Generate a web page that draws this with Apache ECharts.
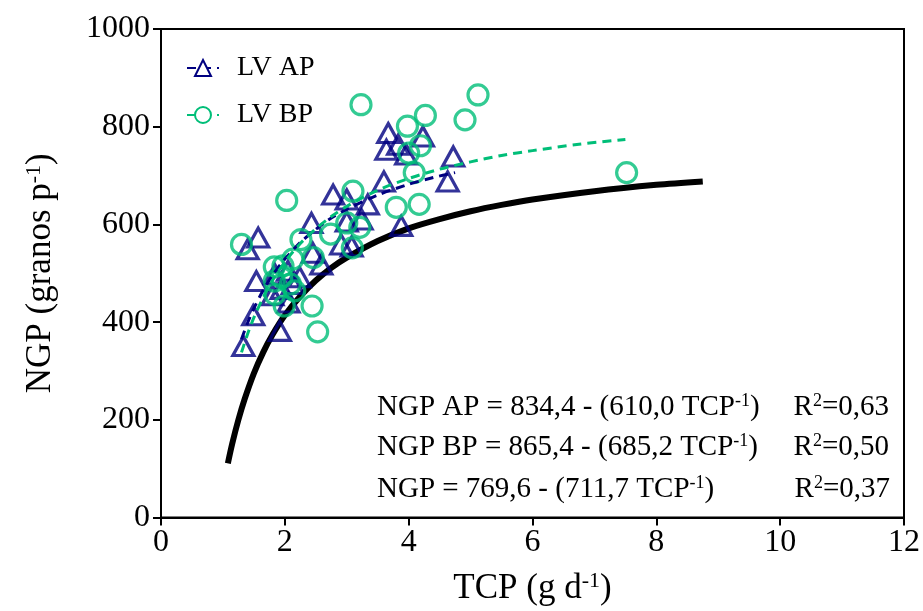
<!DOCTYPE html>
<html>
<head>
<meta charset="utf-8">
<script src="https://cdn.jsdelivr.net/npm/echarts@6/dist/echarts.min.js"></script>
<style>html,body{margin:0;padding:0;background:#fff;}#c{width:923px;height:611px;}</style>
</head>
<body>
<div id="c"></div>
<script>
// LV AP observations (TCP, NGP)
var apTCP = [1.33,1.49,1.54,1.57,1.40,1.80,1.92,1.84,1.95,2.05,2.13,2.24,2.06,2.43,2.45,2.59,2.78,3.00,3.34,2.91,3.08,3.24,3.00,3.67,3.64,3.83,3.96,4.23,3.60,3.88,4.72,4.63];
var apNGP = [351,414,484,573,549,455,382,498,468,505,478,492,440,603,542,518,661,651,641,559,555,610,606,787,753,763,743,780,688,597,739,688];
// LV BP observations (TCP, NGP)
var bpTCP = [3.23,3.98,4.27,4.91,5.12,4.19,4.00,4.09,3.10,2.03,3.80,4.17,1.30,2.26,2.74,3.00,3.21,3.09,2.46,2.13,1.97,1.83,1.83,1.95,2.16,1.84,1.99,2.44,2.53,2.09,7.52];
var bpNGP = [845,801,823,814,865,761,746,706,668,649,635,641,559,569,580,603,594,552,532,529,515,513,484,491,464,457,433,433,380,478,706];
// fitted curves
var fitApTCP = [1.3,1.4,1.5,1.65,1.8,2,2.25,2.5,2.75,3,3.5,4,4.4,4.75];
var fitApNGP = [365,399,428,465,496,529,563,590,613,631,660,682,696,706];
var fitBpTCP = [1.3,1.4,1.5,1.65,1.8,2,2.25,2.5,2.75,3,3.5,4,4.5,5,5.5,6,6.75,7.5];
var fitBpNGP = [338,376,409,450,485,523,561,591,616,637,670,694,713,728,741,751,764,774];
var fitAllTCP = [1.08,1.15,1.25,1.35,1.5,1.65,1.8,2,2.25,2.5,2.75,3,3.5,4,4.5,5,5.5,6,7,8,8.75];
var fitAllNGP = [111,151,200,242,295,338,374,414,453,485,511,532,566,592,611,627,640,651,668,681,688];
// axis ticks
var xTicks = [0,2,4,6,8,10,12];
var yTicks = [0,200,400,600,800,1000];

function zip(a,b){return a.map(function(v,i){return [v,b[i]];});}

var NAVY = '#000080', GREEN = '#00BE78';
var FONT = '"Liberation Serif","Times New Roman",serif';
var supStyle = {fontSize: 22, fontFamily: FONT, verticalAlign: 'top', lineHeight: 36, color:'#000'};
var eqSup = {sup:{fontSize:18, fontFamily:FONT, verticalAlign:'top', lineHeight: 30}};

var chart = echarts.init(document.getElementById('c'), null, {renderer:'canvas'});
chart.setOption({
  animation: false,
  backgroundColor: '#fff',
  grid: {left: 161, right: 19, top: 29, bottom: 92, show: true, borderColor: '#000', borderWidth: 2, backgroundColor: 'transparent'},
  legend: {
    orient: 'vertical', left: 181, top: 49, itemGap: 19,
    itemWidth: 32, itemHeight: 20,
    data: ['LV AP','LV BP'],
    textStyle: {fontFamily: FONT, fontSize: 28, color: '#000', padding: [0,0,0,13]}
  },
  xAxis: {
    type: 'value', min: xTicks[0], max: xTicks[xTicks.length-1], interval: 2,
    name: 'TCP (g d{sup|-1})', nameLocation: 'middle', nameGap: 53,
    nameTextStyle: {fontFamily: FONT, fontSize: 35, color: '#000', rich: {sup: supStyle}},
    axisLine: {lineStyle: {color: '#000', width: 2}},
    axisTick: {show: true, inside: false, length: 8, lineStyle: {color:'#000', width: 2}},
    axisLabel: {fontFamily: FONT, fontSize: 32, color: '#000', margin: 9, formatter: function(v){return String(v);}},
    splitLine: {show: false}
  },
  yAxis: {
    type: 'value', min: yTicks[0], max: yTicks[yTicks.length-1], interval: 200,
    name: 'NGP (granos p{sup|-1})', nameLocation: 'middle', nameGap: 102,
    nameTextStyle: {fontFamily: FONT, fontSize: 35, color: '#000', rich: {sup: supStyle}},
    axisLine: {lineStyle: {color: '#000', width: 2}},
    axisTick: {show: true, inside: false, length: 8, lineStyle: {color:'#000', width: 2}},
    axisLabel: {fontFamily: FONT, fontSize: 32, color: '#000', margin: 11, formatter: function(v){return String(v);}},
    splitLine: {show: false}
  },
  series: [
    {
      name: 'NGP', type: 'line', data: zip(fitAllTCP, fitAllNGP), smooth: 0.3,
      showSymbol: false, symbol: 'none', lineStyle: {color: '#000', width: 6}, z: 1, silent: true
    },
    {
      name: 'LV AP', type: 'line', data: zip(fitApTCP, fitApNGP), smooth: 0.3,
      showSymbol: false, symbol: 'emptyTriangle', symbolSize: 14,
      itemStyle: {color: NAVY}, lineStyle: {color: NAVY, width: 3, type: [9,6]}, z: 3, silent: true
    },
    {
      name: 'LV BP', type: 'line', data: zip(fitBpTCP, fitBpNGP), smooth: 0.3,
      showSymbol: false, symbol: 'emptyCircle', symbolSize: 14,
      itemStyle: {color: GREEN}, lineStyle: {color: GREEN, width: 3, type: [9,6]}, z: 3, silent: true
    },
    {
      name: 'AP obs', type: 'scatter', data: zip(apTCP, apNGP), symbol: 'triangle', symbolSize: [21,19],
      itemStyle: {color: 'rgba(0,0,0,0)', borderColor: NAVY, borderWidth: 3.2}, z: 2
    },
    {
      name: 'BP obs', type: 'scatter', data: zip(bpTCP, bpNGP), symbol: 'circle', symbolSize: 20,
      itemStyle: {color: 'rgba(0,0,0,0)', borderColor: GREEN, borderWidth: 3.2}, z: 2
    }
  ],
  graphic: [
    {type:'text', left: 377, top: 392, style:{text:'NGP AP = 834,4 - (610,0 TCP{sup|-1})', font:'29px '+FONT, fill:'#000', rich: eqSup}},
    {type:'text', left: 377, top: 432, style:{text:'NGP BP = 865,4 - (685,2 TCP{sup|-1})', font:'29px '+FONT, fill:'#000', rich: eqSup}},
    {type:'text', left: 377, top: 474, style:{text:'NGP = 769,6 - (711,7 TCP{sup|-1})', font:'29px '+FONT, fill:'#000', rich: eqSup}},
    {type:'text', right: 34, top: 392, style:{text:'R{sup|2}=0,63', font:'29px '+FONT, fill:'#000', rich: eqSup}},
    {type:'text', right: 34, top: 432, style:{text:'R{sup|2}=0,50', font:'29px '+FONT, fill:'#000', rich: eqSup}},
    {type:'text', right: 33, top: 474, style:{text:'R{sup|2}=0,37', font:'29px '+FONT, fill:'#000', rich: eqSup}}
  ]
});
</script>
</body>
</html>
